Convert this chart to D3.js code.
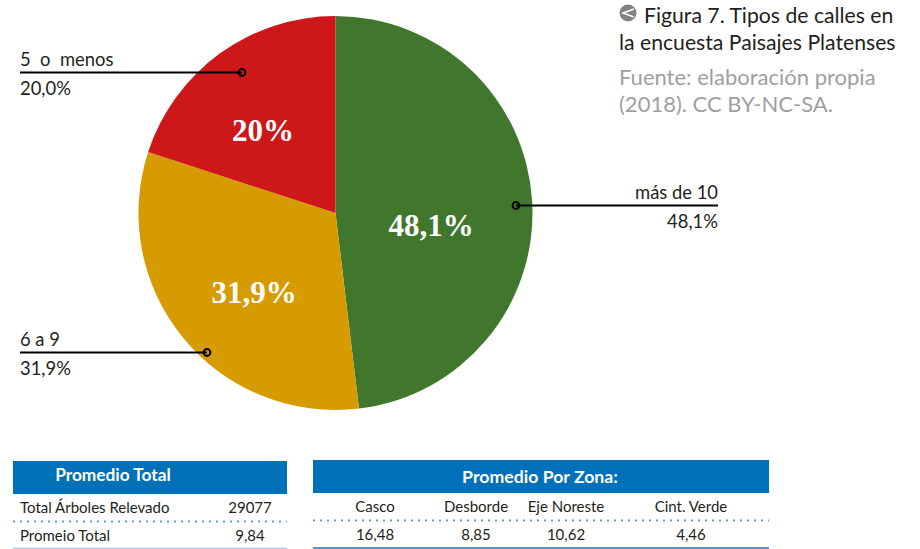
<!DOCTYPE html>
<html>
<head>
<meta charset="utf-8">
<script src="https://cdn.jsdelivr.net/npm/d3@7"></script>
<style>
  html, body { margin: 0; padding: 0; background: #fff; }
  svg { display: block; }
  text { font-family: Lato, sans-serif; fill: #231f20; }
</style>
</head>
<body>
<svg id="chart" width="920" height="549"></svg>
<script>
// datos del grafico
const categories = ['más de 10', '6 a 9', '5  o  menos'];
const values = [48.1, 31.9, 20.0];
const sliceLabels = ['48,1%', '31,9%', '20%'];
const calloutValues = ['48,1%', '31,9%', '20,0%'];
const colors = ['#40772c', '#d69b00', '#cd1719'];

const tableTotalRows = ['Total Árboles Relevado', 'Promeio Total'];
const tableTotalValues = ['29077', '9,84'];
const zonas = ['Casco', 'Desborde', 'Eje Noreste', 'Cint. Verde'];
const zonaValues = ['16,48', '8,85', '10,62', '4,46'];

const svg = d3.select('#chart');

// torta
const cx = 335.5, cy = 213, radius = 197;
const pie = d3.pie().sort(null).value(d => d);
const arc = d3.arc().innerRadius(0).outerRadius(radius);
const arcs = pie(values);

const g = svg.append('g').attr('transform', `translate(${cx},${cy})`);
g.selectAll('path')
  .data(arcs)
  .join('path')
  .attr('d', arc)
  .attr('fill', (d, i) => colors[i]);

// etiquetas dentro de la torta
const sliceLabelPos = [[431, 225], [254, 292], [263, 130]];
svg.selectAll('.slice-label')
  .data(sliceLabels)
  .join('text')
  .attr('class', 'slice-label')
  .attr('x', (d, i) => sliceLabelPos[i][0])
  .attr('y', (d, i) => sliceLabelPos[i][1])
  .attr('text-anchor', 'middle')
  .attr('dominant-baseline', 'central')
  .style('font-family', '"Liberation Serif", serif')
  .style('font-weight', 'bold')
  .style('font-size', '31px')
  .style('fill', '#fff')
  .text(d => d);

// lineas de referencia
const callouts = [
  { x1: 516, x2: 718, y: 205.5, anchor: 'end', tx: 718 },
  { x1: 20, x2: 207, y: 352.5, anchor: 'start', tx: 20 },
  { x1: 20, x2: 242, y: 72.5, anchor: 'start', tx: 20 }
];
callouts.forEach((c, i) => {
  svg.append('line')
    .attr('x1', c.x1).attr('x2', c.x2)
    .attr('y1', c.y).attr('y2', c.y)
    .attr('stroke', '#000').attr('stroke-width', 2);
  const dotX = c.anchor === 'end' ? c.x1 : c.x2;
  svg.append('circle')
    .attr('cx', dotX).attr('cy', c.y).attr('r', 3.4)
    .attr('fill', 'none').attr('stroke', '#000').attr('stroke-width', 2);
  svg.append('text')
    .attr('x', c.tx).attr('y', c.y - 7)
    .attr('text-anchor', c.anchor)
    .style('font-size', '18.4px')
    .style('white-space', 'pre')
    .text(categories[i]);
  svg.append('text')
    .attr('x', c.tx).attr('y', c.y + 22)
    .attr('text-anchor', c.anchor)
    .style('font-size', '18.4px')
    .text(calloutValues[i]);
});

// titulo
svg.append('circle').attr('cx', 628).attr('cy', 13).attr('r', 8.5).attr('fill', '#808285');
svg.append('path').attr('d', 'M634,9 L623,13 L634,17').attr('fill', 'none').attr('stroke', '#fff').attr('stroke-width', 1.5);
const titleLines = [['Figura 7. Tipos de calles en', 644, 23], ['la encuesta Paisajes Platenses', 619, 50]];
titleLines.forEach(t => {
  svg.append('text').attr('x', t[1]).attr('y', t[2]).style('font-size', '21.2px').text(t[0]);
});
const sourceLines = [['Fuente: elaboración propia', 85], ['(2018). CC BY-NC-SA.', 112]];
sourceLines.forEach(t => {
  svg.append('text').attr('x', 619).attr('y', t[1]).style('font-size', '22px').style('fill', '#9d9fa2').text(t[0]);
});

// tabla izquierda
const blue = '#0071b9', dots = '#6a9bd4';
svg.append('rect').attr('x', 13).attr('y', 461).attr('width', 274).attr('height', 33).attr('fill', blue);
svg.append('text').attr('x', 113).attr('y', 481).attr('text-anchor', 'middle')
  .style('font-size', '17.3px').style('font-weight', 'bold').style('fill', '#fff').text('Promedio Total');
const rowY = [513, 541];
tableTotalRows.forEach((r, i) => {
  svg.append('text').attr('x', 20).attr('y', rowY[i]).style('font-size', '15px').text(r);
  svg.append('text').attr('x', 250).attr('y', rowY[i]).attr('text-anchor', 'middle').style('font-size', '15px').text(tableTotalValues[i]);
});
svg.append('line').attr('x1', 13).attr('x2', 287).attr('y1', 521.5).attr('y2', 521.5)
  .attr('stroke', dots).attr('stroke-width', 2).attr('stroke-dasharray', '2 5');
svg.append('line').attr('x1', 13).attr('x2', 287).attr('y1', 548.5).attr('y2', 548.5)
  .attr('stroke', '#a9c6e8').attr('stroke-width', 1.5);

// tabla derecha
svg.append('rect').attr('x', 313).attr('y', 460).attr('width', 456).attr('height', 33).attr('fill', blue);
svg.append('text').attr('x', 540).attr('y', 483).attr('text-anchor', 'middle')
  .style('font-size', '17.7px').style('font-weight', 'bold').style('fill', '#fff').text('Promedio Por Zona:');
const zonaX = d3.scaleOrdinal().domain(zonas).range([375, 476, 566, 691]);
zonas.forEach((z, i) => {
  svg.append('text').attr('x', zonaX(z)).attr('y', 512).attr('text-anchor', 'middle').style('font-size', '15px').text(z);
  svg.append('text').attr('x', zonaX(z)).attr('y', 540).attr('text-anchor', 'middle').style('font-size', '15px').text(zonaValues[i]);
});
svg.append('line').attr('x1', 313).attr('x2', 769).attr('y1', 520.5).attr('y2', 520.5)
  .attr('stroke', dots).attr('stroke-width', 2).attr('stroke-dasharray', '2 5');
svg.append('line').attr('x1', 313).attr('x2', 769).attr('y1', 548).attr('y2', 548)
  .attr('stroke', '#5f93cf').attr('stroke-width', 2);
</script>
</body>
</html>
